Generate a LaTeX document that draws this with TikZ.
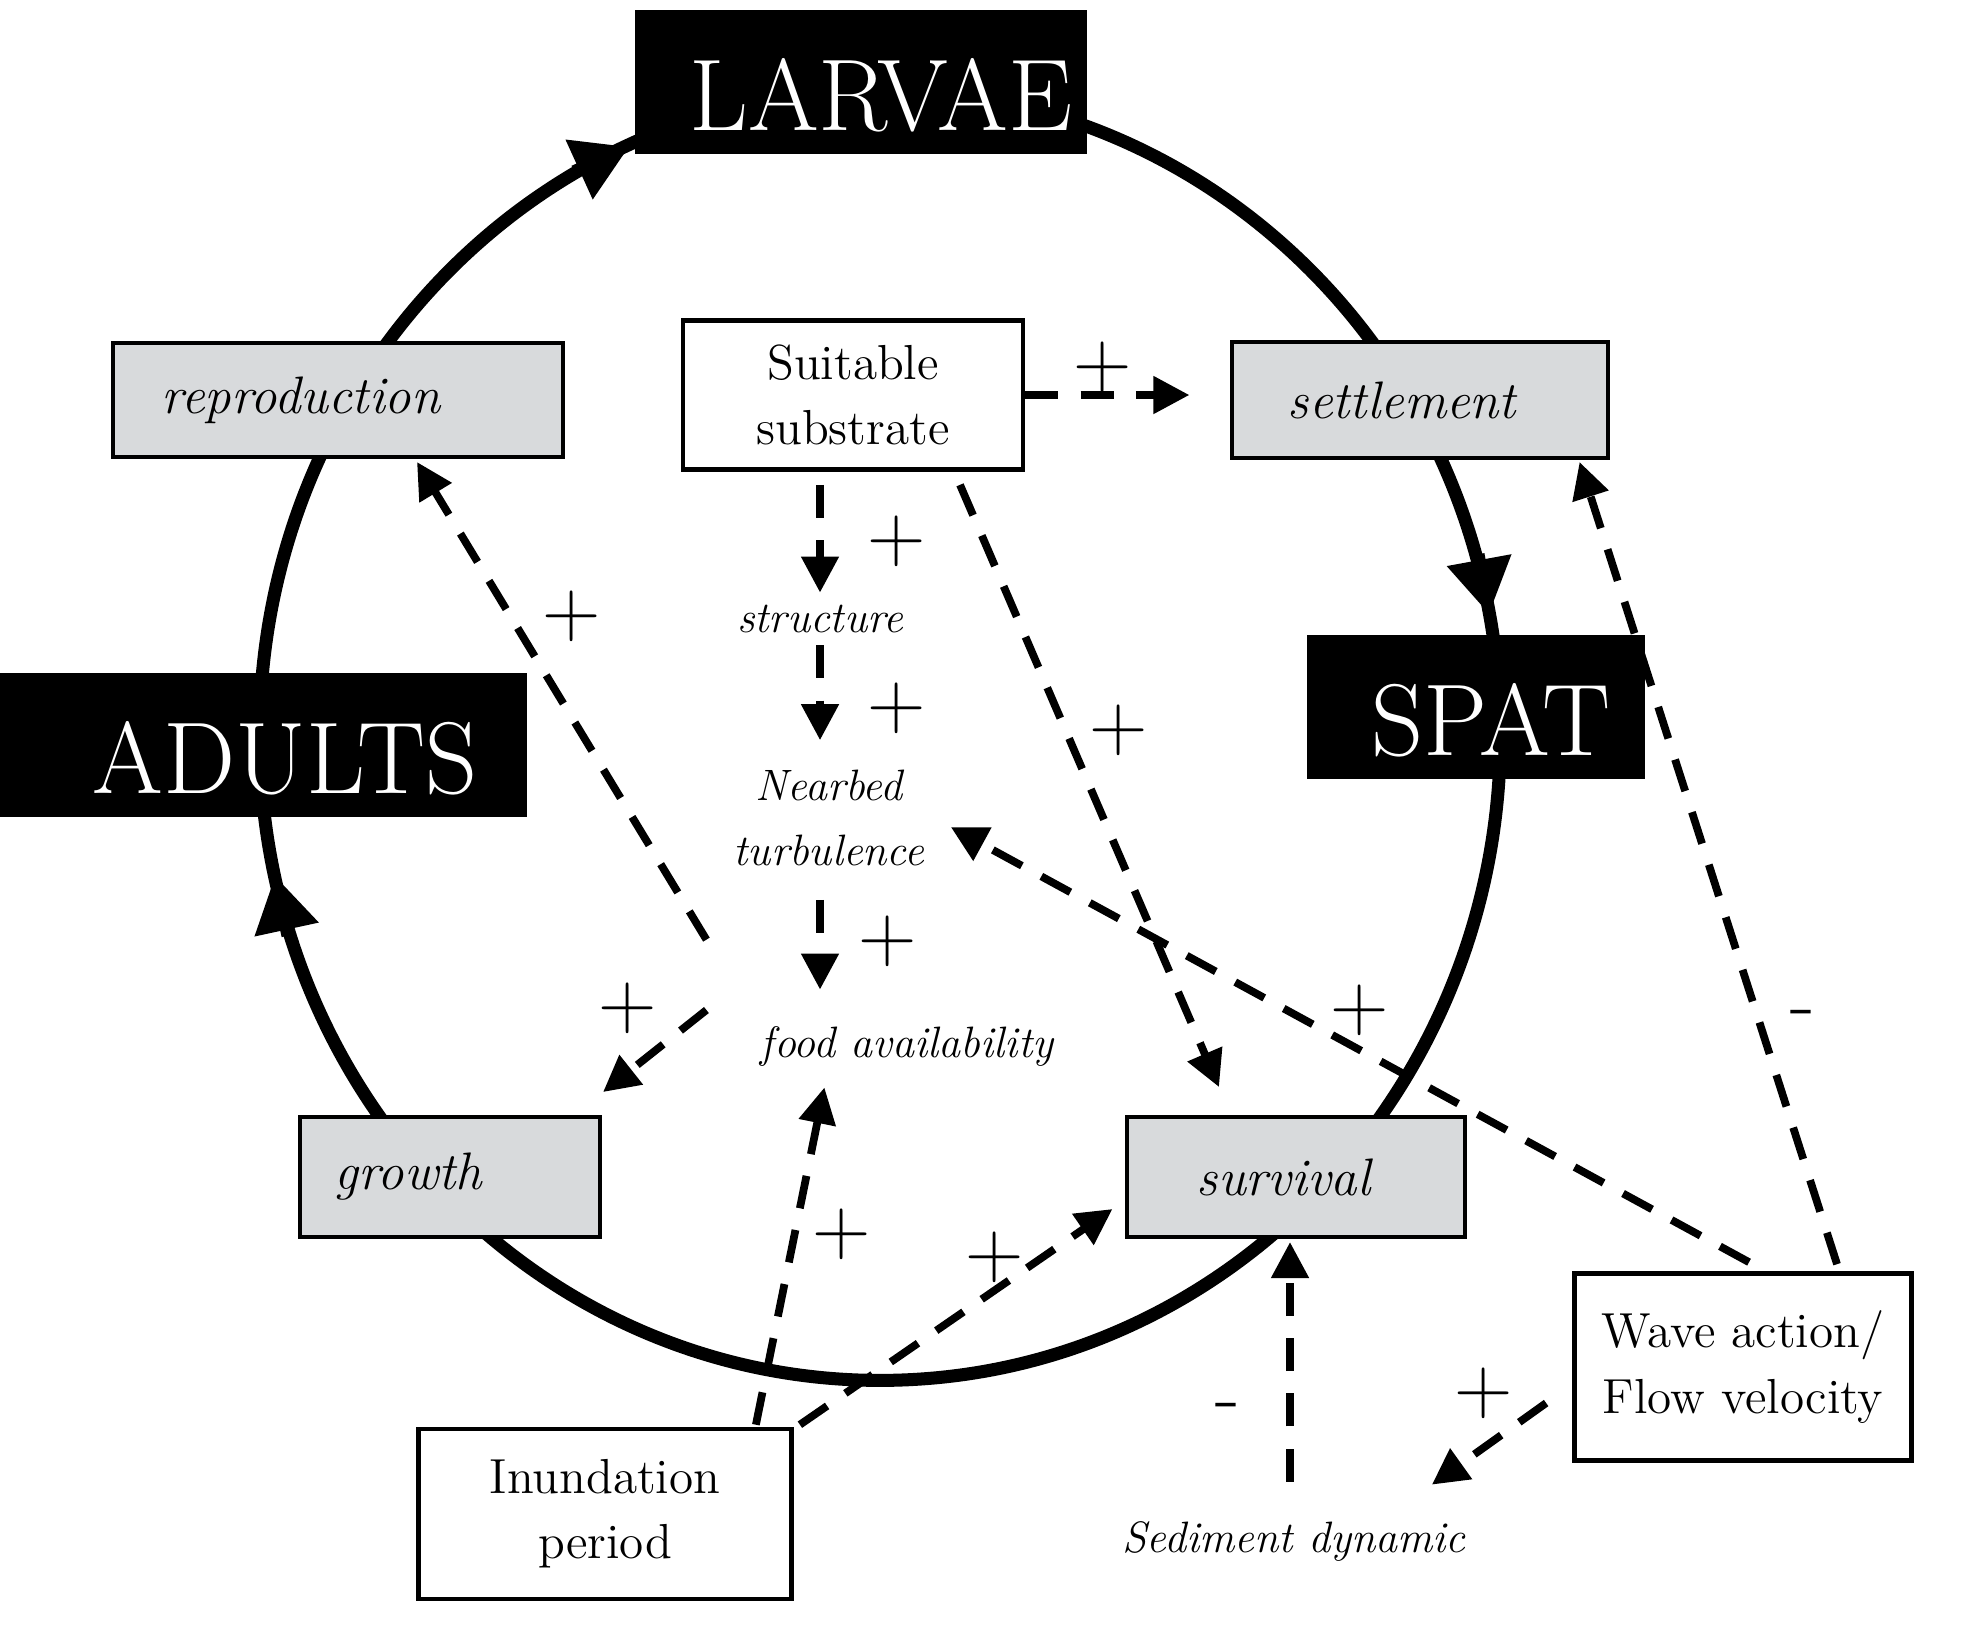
\documentclass[tikz,border=0pt]{standalone}
\usetikzlibrary{arrows.meta,calc}

\definecolor{boxgray}{HTML}{D8DADC}

\begin{document}
\begin{tikzpicture}[x=0.01cm,y=-0.01cm]
  % Estilos para cada tipo de elemento
  \tikzset{
    stage_box/.style={fill=black,text=white,inner sep=0pt,minimum height=1.44cm,text height=0.96cm,text depth=0pt,font=\fontsize{29}{33}\selectfont},
    process_box/.style={draw,line width=1.1pt,fill=boxgray,inner sep=0pt,align=left,font=\itshape\fontsize{15}{18}\selectfont},
    factor_box/.style={draw,line width=1.3pt,fill=white,inner sep=0pt,align=center,font=\fontsize{14}{18.5}\selectfont},
    effect_text/.style={align=center,font=\itshape\fontsize{12.5}{18.7}\selectfont},
    sign_text/.style={font=\fontsize{23}{23}\selectfont},
    dashed_arrow/.style={line width=2.2pt,dash pattern=on 9.4pt off 6.3pt,-{Triangle[length=0.36cm,width=0.36cm]}},
    cycle_line/.style={line width=3.7pt},
    cycle_arrow/.style={line width=3.7pt,-{Triangle[length=0.55cm,width=0.62cm]}}
  }
  \useasboundingbox (0,0) rectangle (1980,1639);

  % Ciclo de vida
  \draw[cycle_line] (880,735) ellipse [x radius=6.2cm,y radius=6.45cm];

  % Estadios (negro)
  \node[stage_box,minimum width=4.52cm] (larvae) at (861,82) {\hspace*{0.4cm}LARVAE};
  \node[stage_box,minimum width=5.27cm] (adults) at (263,745) {\hspace*{0.44cm}ADULTS};
  \node[stage_box,minimum width=3.38cm] (spat) at (1476,707) {\hspace*{0.3cm}SPAT};

  % Procesos (gris)
  \node[process_box,minimum width=4.49cm,minimum height=1.14cm,text width=3.52cm] (reproduction) at (338,400) {reproduction};
  \node[process_box,minimum width=3.75cm,minimum height=1.16cm,text width=2.64cm] (settlement) at (1420,400) {settlement};
  \node[process_box,minimum width=3.00cm,minimum height=1.20cm,text width=2.30cm] (growth) at (450,1177) {growth};
  \node[process_box,minimum width=3.37cm,minimum height=1.20cm,text width=1.98cm] (survival) at (1296,1177) {survival};

  % Factores (blanco)
  \node[factor_box,minimum width=3.40cm,minimum height=1.49cm] (substrate) at (853,395) {Suitable\\substrate};
  \node[factor_box,minimum width=3.73cm,minimum height=1.70cm] (inundation) at (605,1514) {Inundation\\period};
  \node[factor_box,minimum width=3.37cm,minimum height=1.87cm] (wave) at (1743,1367) {Wave action/\\Flow velocity};

  % Efectos intermedios
  \node[effect_text] (structure) at (820,619) {structure};
  \node[effect_text] (nearbed) at (829,818) {Nearbed\\turbulence};
  \node[effect_text] (food) at (907,1046) {food availability};
  \node[effect_text] (sediment) at (1294,1541) {Sediment dynamic};

  % Puntas del ciclo
  \draw[cycle_arrow] ($(larvae.south west)+(-60,17)$) -- ($(larvae.south west)+(-5,-8)$);
  \draw[cycle_arrow] ($(spat.north)+(2,-80)$) -- ($(spat.north)+(13,-20)$);
  \draw[cycle_arrow] ($(adults.south)+(25,118)$) -- ($(adults.south)+(12,58)$);

  % Relaciones entre factores y procesos
  \draw[dashed_arrow,shorten >=0.41cm] (substrate.east) -- (substrate.east -| settlement.west);
  \draw[dashed_arrow,shorten <=0.13cm] (structure.north |- substrate.south) -- (structure.north);
  \draw[dashed_arrow,shorten >=0.17cm] (structure.south) -- (structure.south |- nearbed.north);
  \draw[dashed_arrow,shorten <=0.21cm,shorten >=0.24cm] (structure.south |- nearbed.south) -- (structure.south |- food.north);
  \draw[dashed_arrow] ($(substrate.south)+(107,13)$) -- ($(survival.north)+(-77,-28)$);
  \draw[dashed_arrow] ($(food.north west)+(-42,-74)$) -- ($(reproduction.south)+(79,3)$);
  \draw[dashed_arrow] ($(food.west)+(-42,-36)$) -- ($(growth.north east)+(1,-23)$);
  \draw[dashed_arrow] ($(inundation.north east)+(-38,-2)$) -- ($(food.south west)+(76,9)$);
  \draw[dashed_arrow] ($(inundation.north east)+(6,-2)$) -- ($(survival.west)+(-13,32)$);
  \draw[dashed_arrow] ($(wave.north)+(6,-9)$) -- ($(nearbed.east)+(14,9)$);
  \draw[dashed_arrow] ($(wave.north)+(94,-7)$) -- ($(settlement.south east)+(-30,2)$);
  \draw[dashed_arrow] ($(wave.west)+(-26,36)$) -- ($(sediment.north east)+(-46,-24)$);
  \draw[dashed_arrow] ($(sediment.north)+(-4,-27)$) -- ($(survival.south)+(-6,3)$);

  % Signos
  \foreach \px/\py/\sg [count=\k] in {1103/367/+,897/541/+,897/708/+,888/941/+,1119/730/+,572/616/+,
      628/1008/+,842/1234/+,995/1257/+,1360/1010/+,1803/1020/-,1484/1393/+,1228/1413/-}
    \node[sign_text] (sign\k) at (\px,\py) {\sg};
\end{tikzpicture}
\end{document}
